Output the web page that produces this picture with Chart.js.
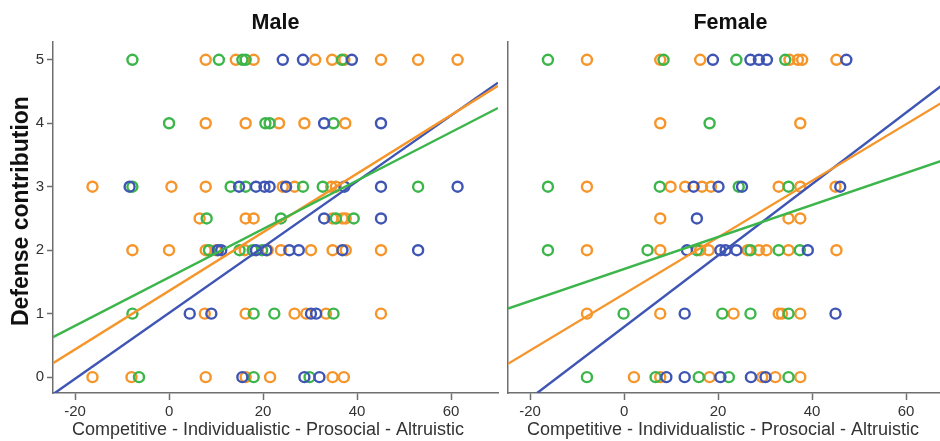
<!DOCTYPE html>
<html>
<head>
<meta charset="utf-8">
<script src="https://cdn.jsdelivr.net/npm/chart.js@4/dist/chart.umd.min.js"></script>
<style>
    html, body { margin: 0; padding: 0; background: #fff; overflow: hidden; width: 940px; height: 441px; }
    canvas { position: absolute; top: 0; }
    #maleChart { left: 0; }
    #femaleChart { left: 500px; }
</style>
</head>
<body>
<canvas id="maleChart" width="500" height="441"></canvas>
<canvas id="femaleChart" width="455" height="441"></canvas>
<script>
const COLORS = {
    blue: '#3f55b3',
    orange: '#f5952a',
    green: '#3cb54a'
};

const xTickValues = [-20, 0, 20, 40, 60];
const yTickValues = [0, 1, 2, 3, 4, 5];
const X_RANGE = [-24.7, 70];
const Y_RANGE = [-0.25, 5.28];

// ---- Male panel ----
const maleBlueX = [24.2, 28.5, 38.9,  33.0, 45.1,  -8.4, 14.9, 18.5, 20.3, 21.4, 24.9, 37.3, 45.1, 61.4,  33.0, 45.1,
                   10.4, 11.1, 18.5, 20.7, 25.6, 27.6, 36.9, 53.0,  4.4, 9.0, 30.2, 31.3,  15.6, 28.8, 32.0];
const maleBlueY = [5, 5, 5,  4, 4,  3, 3, 3, 3, 3, 3, 3, 3, 3,  2.5, 2.5,
                   2, 2, 2, 2, 2, 2, 2, 2,  1, 1, 1, 1,  0, 0, 0];

const maleOrangeX = [7.8, 14.2, 18.0, 31.1, 34.7, 37.3, 45.1, 53.0, 61.4,  7.8, 16.3, 23.4, 28.8, 37.5,
                     -16.3, 0.5, 7.8, 24.2, 26.7, 34.5, 35.5,  6.5, 16.3, 18.0, 34.8, 36.9, 37.6,
                     -7.8, 0, 7.8, 10.0, 16.1, 21.0, 23.8, 30.2, 34.8, 37.6, 45.1,
                     7.6, 16.3, 26.7, 29.2, 33.4, 45.1,  -16.3, -8.0, 7.8, 16.3, 21.5, 34.8, 37.2];
const maleOrangeY = [5, 5, 5, 5, 5, 5, 5, 5, 5,  4, 4, 4, 4, 4,
                     3, 3, 3, 3, 3, 3, 3,  2.5, 2.5, 2.5, 2.5, 2.5, 2.5,
                     2, 2, 2, 2, 2, 2, 2, 2, 2, 2, 2,
                     1, 1, 1, 1, 1, 1,  0, 0, 0, 0, 0, 0, 0];

const maleGreenX = [-7.8, 10.6, 15.6, 16.3, 36.8,  0, 20.5, 21.4, 35.0,  -7.8, 13.1, 16.3, 28.5, 32.7, 53.0,
                    8.0, 23.8, 35.5, 39.3,  8.5, 15.0, 17.8, 19.8,  -7.8, 18.0, 22.4, 35.0,  -6.4, 18.0, 29.9];
const maleGreenY = [5, 5, 5, 5, 5,  4, 4, 4, 4,  3, 3, 3, 3, 3, 3,
                    2.5, 2.5, 2.5, 2.5,  2, 2, 2, 2,  1, 1, 1, 1,  0, 0, 0];

// fit lines: [x0, y0, x1, y1]
const maleFitBlue = [-24.7, -0.27, 70, 4.64];
const maleFitOrange = [-24.7, 0.22, 70, 4.59];
const maleFitGreen = [-24.7, 0.63, 70, 4.24];

// ---- Female panel ----
const femaleBlueX = [18.9, 26.9, 28.7, 30.4, 47.3,  14.8, 20.1, 25.1, 46.0,  15.5,
                     13.4, 20.5, 21.6, 23.9, 39.1,  12.9, 45.0,  9.0, 12.9, 20.5, 27.0, 30.1];
const femaleBlueY = [5, 5, 5, 5, 5,  3, 3, 3, 3,  2.5,
                     2, 2, 2, 2, 2,  1, 1,  0, 0, 0, 0, 0];

const femaleOrangeX = [-7.9, 7.7, 16.2, 35.2, 37.0, 37.9, 45.2,  7.7, 37.5,
                       -7.9, 9.9, 13.0, 16.6, 18.5, 32.9, 37.5, 45.0,  7.7, 35.0, 37.5,
                       -7.9, 7.7, 16.2, 18.0, 26.3, 28.7, 30.3, 35.0, 45.2,
                       -7.9, 7.7, 23.3, 32.9, 33.6, 37.5,  2.1, 7.7, 18.2, 29.4, 32.2, 37.5];
const femaleOrangeY = [5, 5, 5, 5, 5, 5, 5,  4, 4,
                       3, 3, 3, 3, 3, 3, 3, 3,  2.5, 2.5, 2.5,
                       2, 2, 2, 2, 2, 2, 2, 2, 2,
                       1, 1, 1, 1, 1, 1,  0, 0, 0, 0, 0, 0];

const femaleGreenX = [-16.2, 8.4, 23.9, 34.3,  18.2,  -16.2, 7.6, 24.4, 35.0,
                      -16.2, 5.0, 15.5, 26.9, 32.9, 37.4,  -0.1, 20.9, 26.9, 35.0,  -7.9, 6.7, 15.9, 22.3, 35.0];
const femaleGreenY = [5, 5, 5, 5,  4,  3, 3, 3, 3,
                      2, 2, 2, 2, 2, 2,  1, 1, 1, 1,  0, 0, 0, 0, 0];

const femaleFitBlue = [-18.5, -0.25, 70, 4.73];
const femaleFitOrange = [-24.7, 0.21, 70, 4.43];
const femaleFitGreen = [-24.7, 1.08, 70, 3.47];

const AXIS_COLOR = '#6f6f6f';
const FONT = "'Liberation Sans', Arial, sans-serif";
// spaces nudge the centred titles a little off-centre, as in the original
const X_TITLE = 'Competitive - Individualistic - Prosocial - Altruistic   ';
const Y_TITLE = '  Defense contribution';

function toPoints(xs, ys) {
    return xs.map((x, i) => ({ x: x, y: ys[i] }));
}

function pointSet(xs, ys, color) {
    return {
        data: toPoints(xs, ys),
        borderColor: color,
        backgroundColor: 'transparent',
        pointRadius: 5,
        pointBorderWidth: 2.4,
        showLine: false
    };
}

function fitSet(fit, color) {
    return {
        data: [{ x: fit[0], y: fit[1] }, { x: fit[2], y: fit[3] }],
        borderColor: color,
        borderWidth: 2.4,
        pointRadius: 0,
        showLine: true
    };
}

function buildChart(id, title, series, fits, showYLabels) {
    const ctx = document.getElementById(id).getContext('2d');
    // lines first so they end up drawn on top
    const datasets = [
        fitSet(fits[0], COLORS.green),
        fitSet(fits[1], COLORS.orange),
        fitSet(fits[2], COLORS.blue),
        pointSet(series.blueX, series.blueY, COLORS.blue),
        pointSet(series.greenX, series.greenY, COLORS.green),
        pointSet(series.orangeX, series.orangeY, COLORS.orange)
    ];

    return new Chart(ctx, {
        type: 'scatter',
        data: { datasets: datasets },
        options: {
            responsive: false,
            animation: false,
            layout: { autoPadding: false, padding: { left: 0, right: 2, top: 0, bottom: 0 } },
            plugins: {
                legend: { display: false },
                tooltip: { enabled: false },
                title: {
                    display: true,
                    text: title,
                    fullSize: false,
                    color: '#111',
                    font: { family: FONT, size: 21.5, weight: 'bold' },
                    padding: { top: 10, bottom: 6.2 }
                }
            },
            scales: {
                x: {
                    type: 'linear',
                    min: X_RANGE[0],
                    max: X_RANGE[1],
                    afterBuildTicks: (scale) => { scale.ticks = xTickValues.map(v => ({ value: v })); },
                    afterFit: (scale) => {
                        scale.height = 48;
                        scale.paddingLeft = 0;
                        scale.paddingRight = 0;
                    },
                    grid: { drawOnChartArea: false, color: AXIS_COLOR, tickLength: 7, tickWidth: 1.5 },
                    border: { color: AXIS_COLOR, width: 1.5 },
                    ticks: { color: '#333', font: { family: FONT, size: 15 }, padding: 3, maxRotation: 0 },
                    title: {
                        display: true,
                        text: X_TITLE,
                        color: '#333',
                        font: { family: FONT, size: 18 },
                        padding: { top: 0, bottom: 0 }
                    }
                },
                y: {
                    type: 'linear',
                    min: Y_RANGE[0],
                    max: Y_RANGE[1],
                    afterBuildTicks: (scale) => { scale.ticks = yTickValues.map(v => ({ value: v })); },
                    afterFit: (scale) => {
                        scale.width = showYLabels ? 53 : 8;
                        scale.paddingTop = 0;
                        scale.paddingBottom = 0;
                    },
                    grid: {
                        display: showYLabels,
                        drawOnChartArea: false,
                        color: AXIS_COLOR,
                        tickLength: 6,
                        tickWidth: 1.5
                    },
                    border: { display: true, color: AXIS_COLOR, width: 1.5 },
                    ticks: { display: showYLabels, color: '#333', font: { family: FONT, size: 15 }, padding: 3 },
                    title: {
                        display: showYLabels,
                        text: Y_TITLE,
                        color: '#111',
                        font: { family: FONT, size: 23, weight: 'bold' },
                        padding: { top: 8, bottom: 0 }
                    }
                }
            }
        }
    });
}

document.addEventListener('DOMContentLoaded', () => {
    buildChart('maleChart', 'Male', {
        blueX: maleBlueX, blueY: maleBlueY,
        orangeX: maleOrangeX, orangeY: maleOrangeY,
        greenX: maleGreenX, greenY: maleGreenY
    }, [maleFitGreen, maleFitOrange, maleFitBlue], true);

    buildChart('femaleChart', 'Female', {
        blueX: femaleBlueX, blueY: femaleBlueY,
        orangeX: femaleOrangeX, orangeY: femaleOrangeY,
        greenX: femaleGreenX, greenY: femaleGreenY
    }, [femaleFitGreen, femaleFitOrange, femaleFitBlue], false);
});
</script>
</body>
</html>
